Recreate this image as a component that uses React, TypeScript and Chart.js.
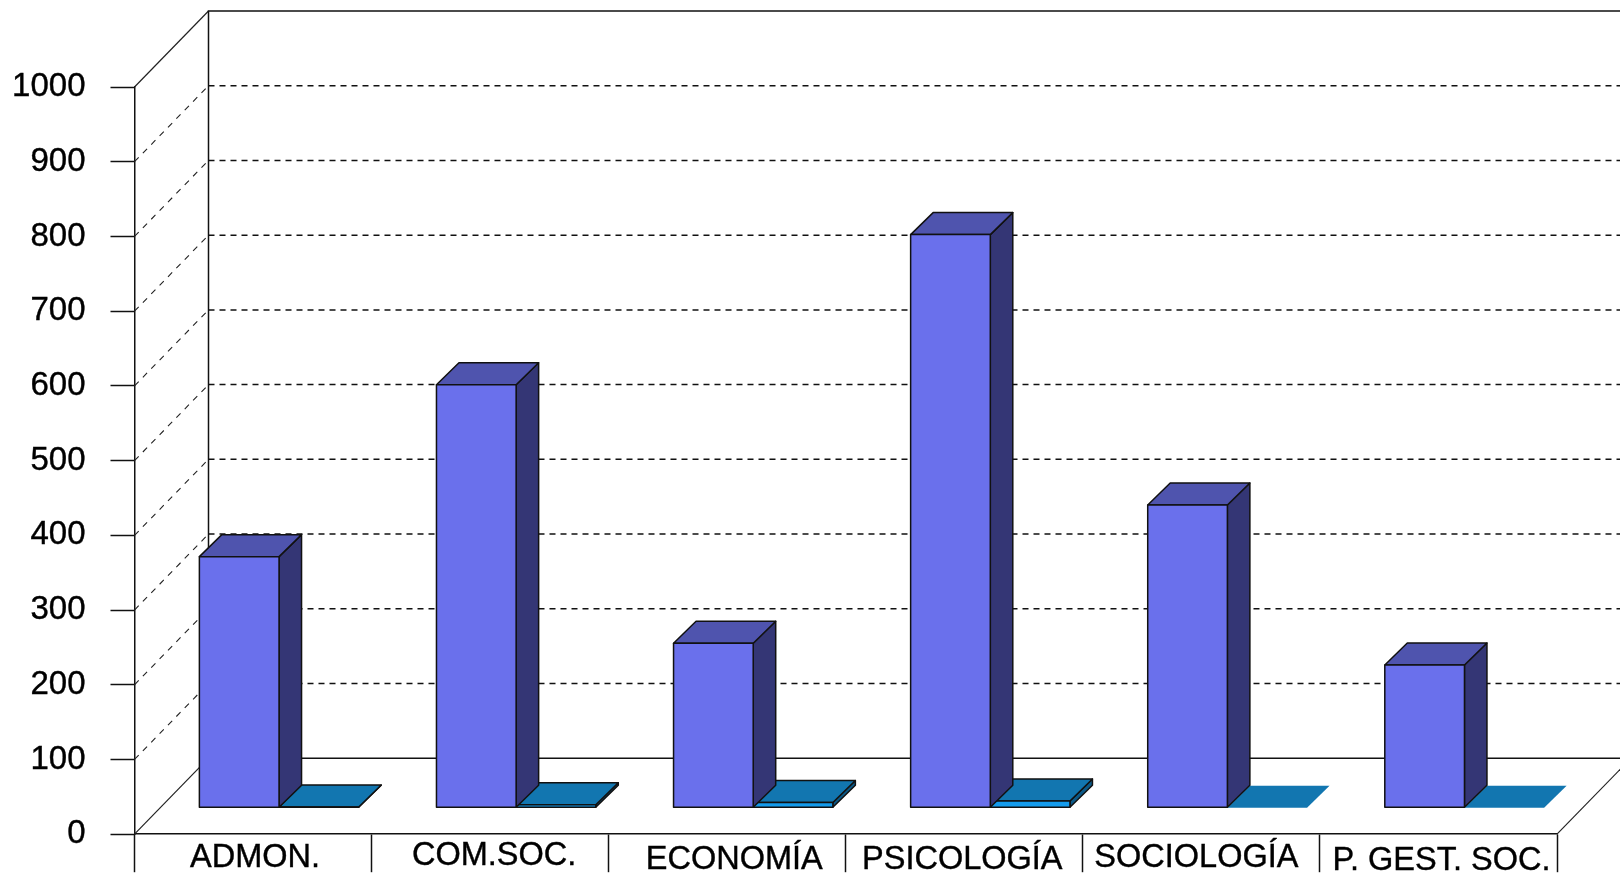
import React, { useEffect, useRef } from "react";
import { Chart, registerables } from "chart.js";

Chart.register(...registerables);

const categories = ["ADMON.", "COM.SOC.", "ECONOMÍA", "PSICOLOGÍA", "SOCIOLOGÍA", "P. GEST. SOC."];
const seriesA = [336, 566, 220, 767, 405, 191];
const seriesB = [1, 4, 7, 9, 0, 0];
const labelNudgeX = [2, 4, 7, -2, -5, 3];
const labelNudgeY = [0, -2, 2, 2, 0, 3];

const FONT = '"Liberation Sans", Arial, sans-serif';
const INK = "#111111";
const WALL_DX = 74;
const WALL_DY = 76;
const PLANE_DX = 26;
const PLANE_DY = 26.5;
const BAR_DX = 22.5;
const BAR_DY = 22;

const colorsA = { front: "#6a70ec", top: "#4f54ae", side: "#343675" };
const colorsB = { front: "#149bec", top: "#1276b0", side: "#0c5a88" };

function line(ctx: any, pts: number[][], width: number, color: string, dash: number[] = []) {
  ctx.save();
  ctx.beginPath();
  ctx.lineWidth = width;
  ctx.strokeStyle = color;
  ctx.setLineDash(dash);
  pts.forEach((p, i) => (i ? ctx.lineTo(p[0], p[1]) : ctx.moveTo(p[0], p[1])));
  ctx.stroke();
  ctx.restore();
}

function face(ctx: any, pts: number[][], fill: string, stroke: boolean) {
  ctx.save();
  ctx.beginPath();
  pts.forEach((p, i) => (i ? ctx.lineTo(p[0], p[1]) : ctx.moveTo(p[0], p[1])));
  ctx.closePath();
  ctx.fillStyle = fill;
  ctx.fill();
  if (stroke) {
    ctx.lineWidth = 1.5;
    ctx.lineJoin = "round";
    ctx.strokeStyle = INK;
    ctx.stroke();
  }
  ctx.restore();
}

const box3d = {
  id: "box3d",
  beforeDraw(chart: any) {
    const x = chart.scales.x;
    x.getLabelItems().forEach((item: any, i: number) => {
      const t = item.options.translation;
      item.options.translation = [t[0] + labelNudgeX[i], t[1] + labelNudgeY[i]];
    });
  },
  beforeDatasetsDraw(chart: any) {
    const { ctx, chartArea: a, scales } = chart;
    const y = scales.y;
    const backX = a.left + WALL_DX;
    const farRight = a.right + WALL_DX;
    y.ticks.forEach((t: any) => {
      const py = y.getPixelForValue(t.value);
      if (t.value === 0 || t.value === 1000) {
        line(ctx, [[a.left, py], [backX, py - WALL_DY]], 1.2, "#222222");
      } else {
        line(ctx, [[a.left, py], [backX, py - WALL_DY]], 1.1, "#222222", [6, 6]);
        line(ctx, [[backX, py - WALL_DY], [farRight, py - WALL_DY]], 1.5, INK, [6, 5]);
      }
    });
    const top = y.getPixelForValue(1000) - WALL_DY;
    const bot = y.getPixelForValue(0) - WALL_DY;
    line(ctx, [[backX, bot], [backX, top], [farRight, top]], 1.5, INK);
    line(ctx, [[backX, bot], [farRight, bot]], 1.5, INK);
    line(ctx, [[a.right, y.getPixelForValue(0)], [farRight, bot]], 1.2, "#222222");
    ctx.save();
    ctx.translate(PLANE_DX, -PLANE_DY);
  },
  afterDatasetsDraw(chart: any) {
    const { ctx } = chart;
    const palette = [colorsA, colorsB];
    [1, 0].forEach((di) => {
      const meta = chart.getDatasetMeta(di);
      const values = chart.data.datasets[di].data;
      meta.data.forEach((bar: any, i: number) => {
        const l = bar.x - bar.width / 2;
        const r = bar.x + bar.width / 2;
        const t = bar.y;
        const b = bar.base;
        const outlined = values[i] > 0;
        if (outlined) {
          face(ctx, [[r, t], [r + BAR_DX, t - BAR_DY], [r + BAR_DX, b - BAR_DY], [r, b]], palette[di].side, true);
        }
        face(ctx, [[l, t], [r, t], [r + BAR_DX, t - BAR_DY], [l + BAR_DX, t - BAR_DY]], palette[di].top, outlined);
        if (outlined) {
          face(ctx, [[l, t], [r, t], [r, b], [l, b]], palette[di].front, true);
        }
      });
    });
    ctx.restore();
  },
};

export default function App() {
  const ref = useRef<HTMLCanvasElement | null>(null);
  useEffect(() => {
    const chart = new Chart(ref.current as HTMLCanvasElement, {
      type: "bar",
      data: {
        labels: categories,
        datasets: [
          { label: "A", data: seriesA, backgroundColor: colorsA.front, borderWidth: 0, clip: false },
          { label: "B", data: seriesB, backgroundColor: colorsB.front, borderWidth: 0, clip: false },
        ],
      } as any,
      options: {
        responsive: false,
        animation: false,
        layout: { autoPadding: false, padding: { top: 87, right: 63, left: 0, bottom: -8 } },
        plugins: { legend: { display: false }, tooltip: { enabled: false } },
        datasets: { bar: { categoryPercentage: 0.672, barPercentage: 1 } },
        scales: {
          x: {
            position: "bottom",
            afterFit(s: any) { s.height = 38; },
            grid: { drawOnChartArea: false, tickLength: 38, tickColor: INK, tickWidth: 1.5, offset: true },
            border: { display: true, color: INK, width: 1.5 },
            ticks: { color: "#000000", font: { family: FONT, size: 32.5 }, padding: -34, maxRotation: 0, minRotation: 0, autoSkip: false, textStrokeColor: "#000000", textStrokeWidth: 0.4 },
          },
          y: {
            min: 0,
            max: 1000,
            afterFit(s: any) { s.width = 134.5; },
            grid: { drawOnChartArea: false, tickLength: 24, tickColor: INK, tickWidth: 1.5 },
            border: { display: true, color: INK, width: 1.5 },
            ticks: { stepSize: 100, color: "#000000", font: { family: FONT, size: 33 }, padding: 25, callback: (v: any) => String(v), textStrokeColor: "#000000", textStrokeWidth: 0.4 },
          },
        },
      } as any,
      plugins: [box3d],
    });
    return () => chart.destroy();
  }, []);
  return (
    <div style={{ position: "fixed", left: 0, top: 0, width: 1620, height: 879, background: "#fff" }}>
      <canvas ref={ref} width={1620} height={879} style={{ display: "block" }} />
    </div>
  );
}
